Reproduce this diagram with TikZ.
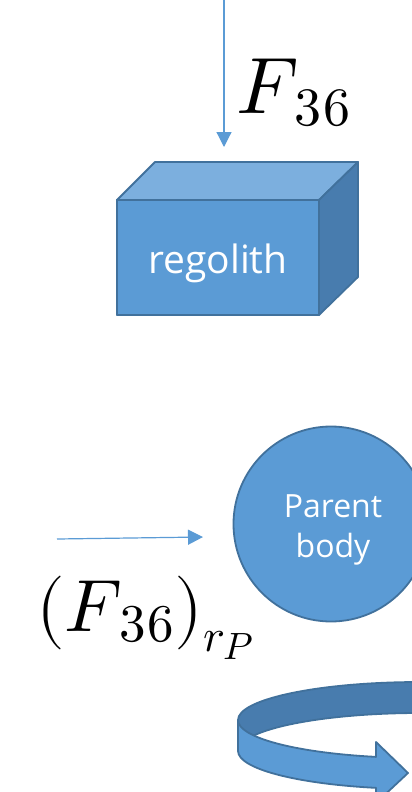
\documentclass[tikz,border=0pt]{standalone}
\usepackage{fontspec}
\usepackage{unicode-math}
\setmainfont{Open Sans}
\setmathfont{Latin Modern Math}
\usetikzlibrary{arrows.meta}
\definecolor{acc}{HTML}{5B9BD5}
\definecolor{accline}{HTML}{41719C}
\definecolor{acctop}{HTML}{7CAFDE}
\definecolor{accdark}{HTML}{487CAE}
\newcommand{\sz}[2]{\fontsize{#1}{#1}\selectfont #2}
\tikzset{
  thinarrow/.style={draw=acc, line width=1.2pt, -{Triangle[length=15pt,width=15pt]}},
  solid3d/.style={draw=accline, line width=1.8pt, line join=round},
  whitetext/.style={text=white, inner sep=0pt},
  mathlabel/.style={inner sep=0pt, anchor=base west}
}
\begin{document}
\begin{tikzpicture}[x=1pt,y=-1pt]
\useasboundingbox (0,0) rectangle (412,792);
\clip (0,0) rectangle (412,792);
% cube
\fill[acc, solid3d] (117,200) rectangle (319,315);
\filldraw[fill=acctop, solid3d] (117,200) -- (155,162) -- (358,162) -- (319,200) -- cycle;
\filldraw[fill=accdark, solid3d] (319,200) -- (358,162) -- (358,277) -- (319,315) -- cycle;
\draw[solid3d] (117,200) rectangle (319,315);
\node[whitetext, font=\fontsize{39}{44}\selectfont, anchor=base] (rego) at (218,273) {regolith};
% top arrow
\coordinate (topstart) at (224,0);
\coordinate (toptip) at (224,147);
\draw[thinarrow] (topstart) -- (toptip);
\node[mathlabel] (f36) at (236,113)
  {\sz{80}{$F$}\kern-4pt\raisebox{-12pt}{\sz{54}{$3\kern2pt6$}}};
% parent body
\node[circle, fill=acc, draw=accline, line width=1.8pt, minimum size=195pt, inner sep=0pt] (pb) at (331,524) {};
\node[whitetext, font=\fontsize{32}{40}\selectfont, anchor=base] (pbt1) at (333,517) {Parent};
\node[whitetext, font=\fontsize{32}{40}\selectfont, anchor=base] (pbt2) at (333,557) {body};
% horizontal arrow
\coordinate (hstart) at (57,539);
\coordinate (htip) at (203,537);
\draw[thinarrow] (hstart) -- (htip);
\node[mathlabel] (frp) at (36,631)
  {\sz{74}{$(F$}\kern-3pt\raisebox{-10pt}{\sz{53}{$3\kern2pt6$}}\sz{74}{$)$}%
   \raisebox{-20pt}{\sz{46}{$r$}\kern-1pt\raisebox{-8pt}{\sz{38}{$P$}}}};
% rotation arrow
\def\cx{420}\def\cy{720}\def\ra{182}\def\rb{38}\def\hh{31}
\filldraw[fill=accdark, solid3d]
  (\cx-\ra,\cy) arc[start angle=180, end angle=300, x radius=\ra, y radius=\rb]
  -- ++(0,\hh) arc[start angle=300, end angle=180, x radius=\ra, y radius=\rb] -- cycle;
\filldraw[fill=acc, solid3d]
  (\cx-\ra,\cy) arc[start angle=180, end angle=104, x radius=\ra, y radius=\rb]
  coordinate (ftop)
  -- (376,742) -- (408,773) -- (376,803)
  -- (376,{\cy+\hh+\rb*sin(104)})
  arc[start angle=104, end angle=180, x radius=\ra, y radius=\rb] -- cycle;
\end{tikzpicture}
\end{document}
